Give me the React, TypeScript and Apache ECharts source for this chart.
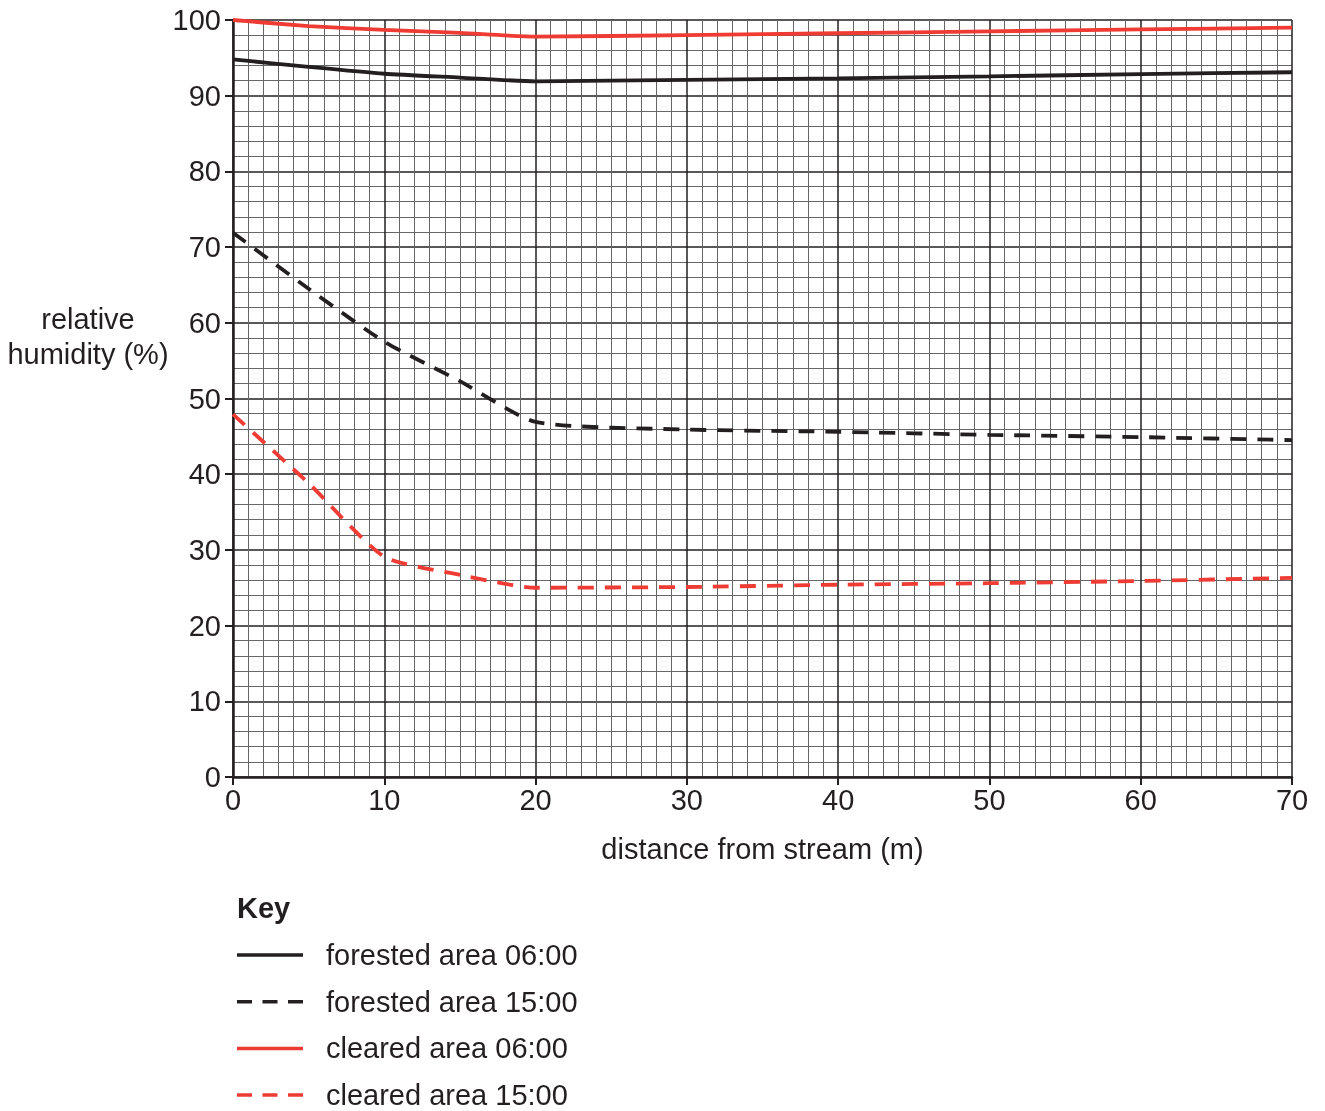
import React, { useEffect, useRef } from "react";
import * as echarts from "echarts";

const distances = [0, 5, 10, 15, 20, 30, 40, 50, 60, 70];
const forested0600 = [94.8, 93.8, 92.9, 92.4, 91.9, 92.1, 92.3, 92.55, 92.85, 93.1];
const forested1500 = [71.9, 64.5, 57.5, 52.3, 46.9, 45.9, 45.6, 45.2, 44.9, 44.5];
const cleared0600 = [100, 99.2, 98.7, 98.3, 97.8, 98.0, 98.25, 98.5, 98.75, 99.0];
const cleared1500 = [47.9, 38.8, 29.1, 26.7, 25.0, 25.1, 25.4, 25.6, 25.9, 26.3];
const seriesNames = ["forested area 06:00", "forested area 15:00", "cleared area 06:00", "cleared area 15:00"];

const BLACK = "#231f20";
const RED = "#ee3b33";
const FONT = "'Liberation Sans', Arial, Helvetica, sans-serif";
const FS = 29;

const pairs = (ys: number[]) => distances.map((x, i) => [x, ys[i]]);

export default function App() {
  const ref = useRef<HTMLDivElement>(null);
  useEffect(() => {
    if (!ref.current) return;
    const chart = echarts.init(ref.current, null, { renderer: "svg" });
    const dash = [16, 11];
    const colors = [BLACK, BLACK, RED, RED];
    const dashed = [false, true, false, true];
    const mk = (i: number, data: number[]) => ({
      name: seriesNames[i],
      type: "line",
      data: pairs(data),
      symbol: "none",
      smooth: 0.2,
      color: colors[i],
      lineStyle: { color: colors[i], width: 3.8, type: dashed[i] ? dash : "solid" },
      z: 5,
    });
    const keyTop = 955;
    const keyStep = 46.7;
    const keyGraphics: any[] = [];
    seriesNames.forEach((name, i) => {
      const y = keyTop + i * keyStep;
      keyGraphics.push({
        type: "line",
        shape: { x1: 237, y1: y, x2: 303, y2: y },
        style: { stroke: colors[i], lineWidth: 3.5, lineDash: dashed[i] ? [15, 10.5] : null },
      });
      keyGraphics.push({
        type: "text",
        x: 326,
        y,
        style: { text: name, fill: BLACK, font: `${FS}px ${FONT}`, verticalAlign: "middle" },
      });
    });
    chart.setOption({
      animation: false,
      textStyle: { fontFamily: FONT, color: BLACK },
      grid: { left: 233, right: 33, top: 20, bottom: 334 },
      xAxis: {
        type: "value",
        min: 0,
        max: 70,
        interval: 10,
        name: "distance from stream (m)",
        nameLocation: "middle",
        nameGap: 57,
        nameTextStyle: { fontSize: FS, color: BLACK, fontFamily: FONT },
        axisLine: { show: true, onZero: false, lineStyle: { color: BLACK, width: 2.5 } },
        axisTick: { show: true, length: 8, lineStyle: { color: BLACK, width: 2 } },
        axisLabel: { fontSize: FS, color: BLACK, margin: 8, fontFamily: FONT },
        splitLine: { show: true, lineStyle: { color: BLACK, width: 1.5 } },
        minorTick: { show: false, splitNumber: 10 },
        minorSplitLine: { show: true, lineStyle: { color: "#666", width: 1 } },
      },
      yAxis: {
        type: "value",
        min: 0,
        max: 100,
        interval: 10,
        axisLine: { show: true, onZero: false, lineStyle: { color: BLACK, width: 2.5 } },
        axisTick: { show: true, length: 8, lineStyle: { color: BLACK, width: 2 } },
        axisLabel: { fontSize: FS, color: BLACK, margin: 12, fontFamily: FONT },
        splitLine: { show: true, lineStyle: { color: BLACK, width: 1.5 } },
        minorTick: { show: false, splitNumber: 5 },
        minorSplitLine: { show: true, lineStyle: { color: "#666", width: 1 } },
      },
      graphic: [
        {
          type: "text",
          x: 88,
          y: 336,
          style: {
            text: "relative\nhumidity (%)",
            lineHeight: 35,
            fill: BLACK,
            font: `${FS}px ${FONT}`,
            align: "center",
            verticalAlign: "middle",
          },
        },
        {
          type: "text",
          x: 237,
          y: 908,
          style: { text: "Key", fill: BLACK, font: `bold ${FS}px ${FONT}`, verticalAlign: "middle" },
        },
        ...keyGraphics,
      ],
      series: [
        mk(0, forested0600),
        mk(1, forested1500),
        mk(2, cleared0600),
        mk(3, cleared1500),
      ],
    });
    return () => chart.dispose();
  }, []);
  return <div ref={ref} style={{ position: "fixed", left: 0, top: 0, width: 1325, height: 1111 }} />;
}
